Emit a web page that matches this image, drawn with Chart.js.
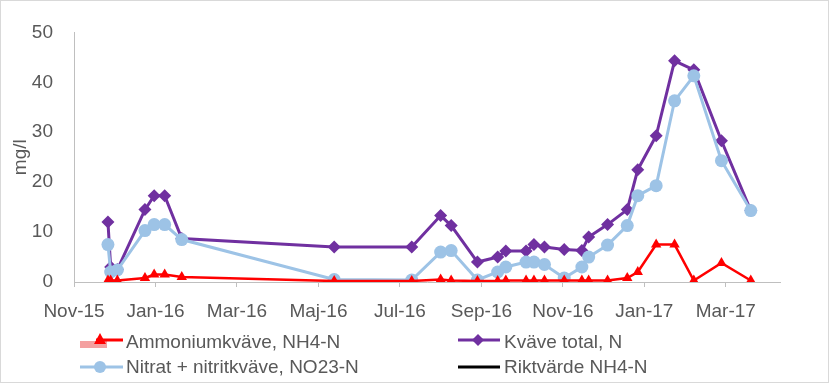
<!DOCTYPE html>
<html>
<head>
<meta charset="utf-8">
<script src="https://cdn.jsdelivr.net/npm/chart.js@4.4.1/dist/chart.umd.min.js"></script>
<style>
  html, body { margin: 0; padding: 0; background: #fff; }
  #wrap { width: 829px; height: 383px; position: relative; }
</style>
</head>
<body>
<div id="wrap"><canvas id="chart" width="829" height="383"></canvas></div>
<script>
// sampling dates
const sampleDates = [
  '2015-11-26', '2015-11-28', '2015-12-03', '2015-12-24', '2015-12-31', '2016-01-08', '2016-01-21',
  '2016-05-13', '2016-07-10', '2016-08-01', '2016-08-09', '2016-08-29', '2016-09-13', '2016-09-19',
  '2016-10-04', '2016-10-10', '2016-10-18', '2016-11-02', '2016-11-15', '2016-11-20', '2016-12-04',
  '2016-12-19', '2016-12-27', '2017-01-10', '2017-01-24', '2017-02-07', '2017-02-26', '2017-03-20'
];
const ammonium = [0.3, 0.3, 0.3, 0.8, 1.5, 1.5, 1, 0.2, 0.2, 0.5, 0.3, 0.2, 0.2, 0.3,
  0.3, 0.3, 0.3, 0.3, 0.3, 0.3, 0.3, 0.8, 2, 7.5, 7.5, 0.3, 3.8, 0.3];
const kvaveTotal = [12, 3, 2.5, 14.5, 17.3, 17.3, 8.7, 7, 7, 13.3, 11.3, 4, 5, 6.2,
  6.2, 7.5, 7, 6.5, 6.3, 9, 11.5, 14.5, 22.5, 29.3, 44.3, 42.5, 28.3, 14.3];
const nitrat = [7.5, 2, 2.4, 10.3, 11.5, 11.5, 8.5, 0.5, 0.4, 6, 6.3, 0.4, 2, 3,
  4, 4, 3.5, 0.8, 3, 5, 7.4, 11.3, 17.3, 19.3, 36.3, 41.3, 24.3, 14.3];
const riktvarde = [];
const tickLabels = ['Nov-15', 'Jan-16', 'Mar-16', 'Maj-16', 'Jul-16', 'Sep-16', 'Nov-16', 'Jan-17', 'Mar-17'];
const seriesNames = ['Ammoniumkväve, NH4-N', 'Kväve total, N', 'Nitrat + nitritkväve, NO23-N', 'Riktvärde NH4-N'];

const FONT = "'Liberation Sans', Arial, sans-serif";
const TXT = '#595959';
const AXIS = '#bfbfbf';

// months since Nov 2015 (axis is laid out month by month)
function monthPos(s) {
  const [y, m, d] = s.split('-').map(Number);
  const dim = new Date(y, m, 0).getDate();
  return (y - 2015) * 12 + (m - 11) + (d - 1) / dim;
}
const pts = vals => vals.map((v, i) => ({ x: monthPos(sampleDates[i]), y: v }));

const legendPlugin = {
  id: 'sideLegend',
  afterDraw(chart) {
    const c = chart.ctx;
    c.save();
    c.font = '19px ' + FONT;
    c.fillStyle = TXT;
    c.textBaseline = 'middle';
    c.textAlign = 'left';
    // Ammonium
    c.fillStyle = '#f4a0a0';
    c.fillRect(80, 341, 27, 7);
    c.strokeStyle = '#ff0000'; c.lineWidth = 3;
    c.beginPath(); c.moveTo(96, 340); c.lineTo(123, 340); c.stroke();
    c.fillStyle = '#ff0000';
    c.beginPath(); c.moveTo(100, 333); c.lineTo(106, 344); c.lineTo(94, 344); c.closePath(); c.fill();
    c.fillStyle = TXT; c.fillText(seriesNames[0], 126, 343);
    // Kväve total
    c.strokeStyle = '#7030a0'; c.lineWidth = 3;
    c.beginPath(); c.moveTo(458, 340); c.lineTo(500, 340); c.stroke();
    c.fillStyle = '#7030a0';
    c.beginPath(); c.moveTo(478, 334); c.lineTo(484, 340); c.lineTo(478, 346); c.lineTo(472, 340); c.closePath(); c.fill();
    c.fillStyle = TXT; c.fillText(seriesNames[1], 504, 343);
    // Nitrat
    c.strokeStyle = '#9dc3e6'; c.lineWidth = 3;
    c.beginPath(); c.moveTo(80, 367); c.lineTo(123, 367); c.stroke();
    c.fillStyle = '#9dc3e6';
    c.beginPath(); c.arc(100, 367, 6, 0, Math.PI * 2); c.fill();
    c.fillStyle = TXT; c.fillText(seriesNames[2], 126, 368);
    // Riktvärde
    c.strokeStyle = '#000'; c.lineWidth = 3;
    c.beginPath(); c.moveTo(458, 367); c.lineTo(500, 367); c.stroke();
    c.fillStyle = TXT; c.fillText(seriesNames[3], 504, 368);
    // outer frame
    c.strokeStyle = '#d9d9d9'; c.lineWidth = 1;
    c.strokeRect(0.5, 0.5, 828, 382);
    c.restore();
  }
};

new Chart(document.getElementById('chart'), {
  type: 'line',
  data: {
    datasets: [
      {
        label: seriesNames[0], data: pts(ammonium), order: 0,
        borderColor: '#ff0000', backgroundColor: '#ff0000', borderWidth: 2.5,
        pointStyle: 'triangle', pointRadius: 6, pointBorderWidth: 0
      },
      {
        label: seriesNames[1], data: pts(kvaveTotal), order: 2,
        borderColor: '#7030a0', backgroundColor: '#7030a0', borderWidth: 3,
        pointStyle: 'rectRot', pointRadius: 6.5, pointBorderWidth: 0
      },
      {
        label: seriesNames[2], data: pts(nitrat), order: 1,
        borderColor: '#9dc3e6', backgroundColor: '#9dc3e6', borderWidth: 3,
        pointStyle: 'circle', pointRadius: 6.5, pointBorderWidth: 0
      },
      {
        label: seriesNames[3], data: riktvarde, order: 3,
        borderColor: '#000', backgroundColor: '#000', borderWidth: 3, pointRadius: 0
      }
    ]
  },
  options: {
    responsive: false,
    animation: false,
    layout: { padding: { top: 31, right: 49, bottom: 0, left: 0 } },
    plugins: { legend: { display: false }, tooltip: { enabled: false } },
    scales: {
      x: {
        type: 'linear',
        min: 0,
        max: 17.33,
        afterBuildTicks: s => { s.ticks = tickLabels.map((_, i) => ({ value: i * 2 })); },
        afterFit: s => { s.height = 101; },
        grid: { drawOnChartArea: false, drawTicks: true, tickLength: 5, color: AXIS },
        border: { display: true, color: AXIS, width: 1 },
        ticks: {
          autoSkip: false, maxRotation: 0, padding: 13,
          color: TXT, font: { family: FONT, size: 19 },
          callback: (v, i) => tickLabels[i]
        }
      },
      y: {
        min: 0,
        max: 50,
        afterFit: s => { s.width = 74; },
        grid: { display: false, drawTicks: false },
        border: { display: true, color: AXIS, width: 1 },
        ticks: { stepSize: 10, padding: 21, color: TXT, font: { family: FONT, size: 19 } },
        title: {
          display: true, text: 'mg/l', color: TXT,
          font: { family: FONT, size: 19 }, padding: { top: 9, bottom: 0 }
        }
      }
    }
  },
  plugins: [legendPlugin]
});
</script>
</body>
</html>
